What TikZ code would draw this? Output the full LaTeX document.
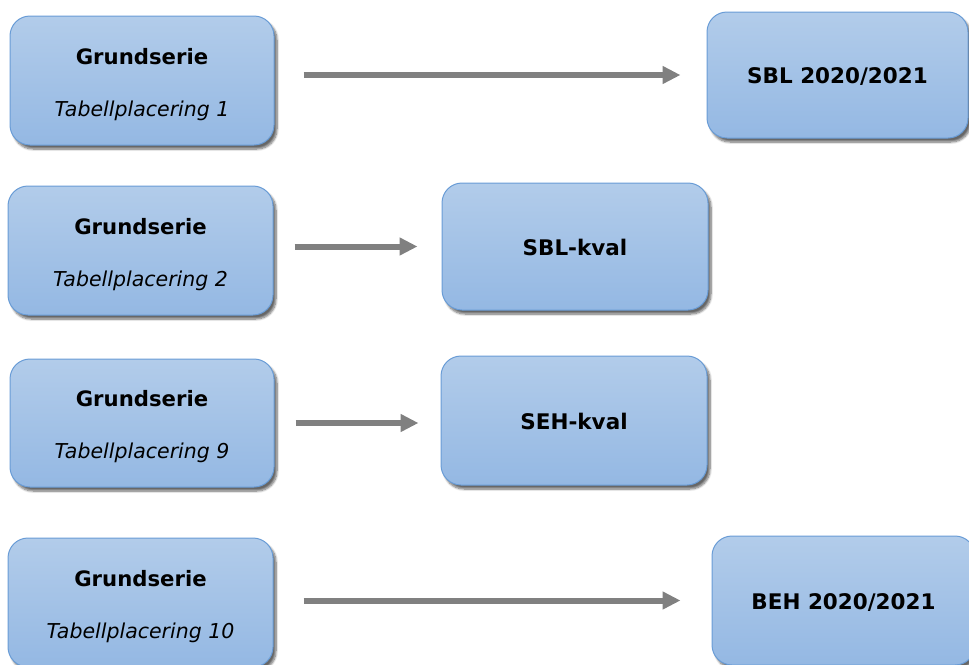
\documentclass[tikz,border=0pt]{standalone}
\usepackage{fontspec}
\setmainfont{DejaVu Sans}
\usetikzlibrary{arrows.meta,shadows.blur}
\definecolor{boxtop}{RGB}{178,204,234}
\definecolor{boxbot}{RGB}{148,184,227}
\definecolor{boxline}{RGB}{105,156,214}
\definecolor{arrgray}{RGB}{128,128,128}
\tikzset{
  stage/.style={rectangle, rounded corners=20pt, draw=boxline, line width=1pt,
    top color=boxtop, bottom color=boxbot, inner sep=0pt, align=center,
    font=\fontsize{20.5}{25}\selectfont,
    blur shadow={shadow xshift=3pt, shadow yshift=-4pt, shadow blur steps=8, shadow opacity=60}},
  flow/.style={draw=arrgray, line width=6pt, -{Triangle[length=18pt,width=17pt]}}
}
\newcommand{\grund}[1]{\rule{0pt}{24pt}{\fontsize{21.2}{25}\selectfont\textbf{Grundserie}}\\[27pt]\textit{Tabellplacering #1}}
\newcommand{\tgt}[1]{\rule{0pt}{19pt}{\fontsize{21.5}{25}\selectfont\textbf{#1}}}
\begin{document}
\begin{tikzpicture}[x=1pt,y=-1pt]
\useasboundingbox (0,0) rectangle (969,664);
\node[stage, minimum width=264pt, minimum height=129pt] (a1) at (142,80.5) {\grund{1}};
\node[stage, minimum width=261pt, minimum height=126pt] (b1) at (837.5,75) {\tgt{SBL 2020/2021}};
\node[stage, minimum width=265pt, minimum height=129pt] (a2) at (140.5,250.5) {\grund{2}};
\node[stage, minimum width=266pt, minimum height=127pt] (b2) at (575,246.5) {\tgt{SBL-kval}};
\node[stage, minimum width=264pt, minimum height=128pt] (a3) at (142,423) {\grund{9}};
\node[stage, minimum width=266pt, minimum height=129pt] (b3) at (574,420.5) {\tgt{SEH-kval}};
\node[stage, minimum width=265pt, minimum height=129pt] (a4) at (140.5,602.5) {\grund{10}};
\node[stage, minimum width=263pt, minimum height=129pt] (b4) at (843.5,600.5) {\tgt{BEH 2020/2021}};
\draw[flow, shorten <=29pt, shorten >=26pt] (a1.east |- b1.west) -- (b1.west);
\draw[flow, shorten <=21pt, shorten >=24pt] (a2.east |- b2.west) -- (b2.west);
\draw[flow, shorten <=21pt, shorten >=22pt] (a3.east) -- (b3.west |- a3.east);
\draw[flow, shorten <=30pt, shorten >=31pt] (a4.east |- b4.west) -- (b4.west);
\end{tikzpicture}
\end{document}
